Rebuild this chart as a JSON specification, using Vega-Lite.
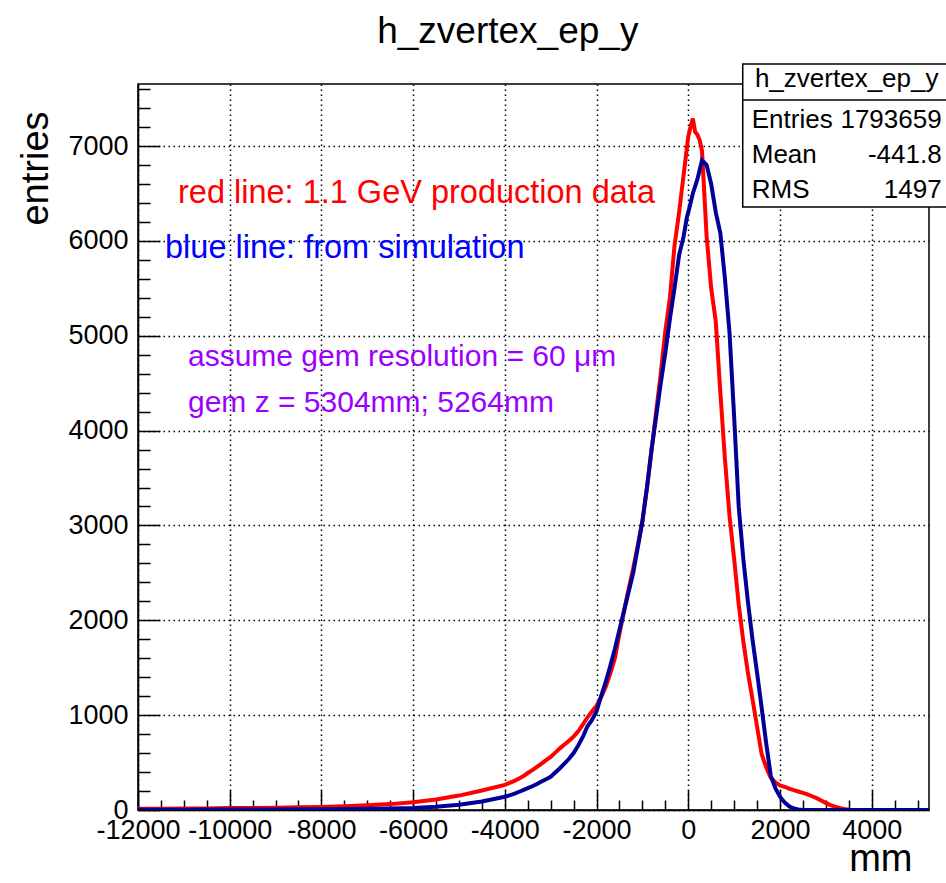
{
  "$schema": "https://vega.github.io/schema/vega-lite/v6.json",
  "width": 791,
  "height": 726,
  "autosize": {"type": "none"},
  "padding": {"left": 138, "top": 84, "right": 17, "bottom": 73},
  "background": "white",
  "config": {
    "font": "Liberation Sans",
    "view": {"stroke": "black", "strokeWidth": 1.5}
  },
  "datasets": {
    "red": [
      {"x": -12000, "n": 12}, {"x": -11500, "n": 13}, {"x": -11000, "n": 15}, {"x": -10500, "n": 17}, {"x": -10000, "n": 20},
      {"x": -9500, "n": 22}, {"x": -9000, "n": 25}, {"x": -8500, "n": 28}, {"x": -8000, "n": 32}, {"x": -7500, "n": 40},
      {"x": -7000, "n": 50}, {"x": -6500, "n": 62}, {"x": -6000, "n": 82}, {"x": -5500, "n": 110}, {"x": -5000, "n": 152},
      {"x": -4500, "n": 205},
      {"x": -4000, "n": 265}, {"x": -3900, "n": 285}, {"x": -3800, "n": 305}, {"x": -3700, "n": 330}, {"x": -3600, "n": 355},
      {"x": -3500, "n": 390}, {"x": -3400, "n": 420}, {"x": -3300, "n": 455}, {"x": -3200, "n": 490}, {"x": -3100, "n": 525},
      {"x": -3000, "n": 560}, {"x": -2900, "n": 605}, {"x": -2800, "n": 650}, {"x": -2700, "n": 690}, {"x": -2600, "n": 730},
      {"x": -2500, "n": 775}, {"x": -2400, "n": 830}, {"x": -2300, "n": 900}, {"x": -2200, "n": 975}, {"x": -2100, "n": 1040},
      {"x": -2000, "n": 1100}, {"x": -1900, "n": 1190}, {"x": -1800, "n": 1300}, {"x": -1700, "n": 1440}, {"x": -1600, "n": 1600},
      {"x": -1500, "n": 1860}, {"x": -1400, "n": 2100}, {"x": -1300, "n": 2330}, {"x": -1200, "n": 2550}, {"x": -1100, "n": 2790},
      {"x": -1000, "n": 3050}, {"x": -900, "n": 3400}, {"x": -800, "n": 3800}, {"x": -700, "n": 4200}, {"x": -600, "n": 4600},
      {"x": -500, "n": 5050}, {"x": -400, "n": 5400}, {"x": -300, "n": 5950}, {"x": -200, "n": 6300}, {"x": -100, "n": 6700},
      {"x": 0, "n": 7100}, {"x": 50, "n": 7200}, {"x": 100, "n": 7290}, {"x": 150, "n": 7150}, {"x": 200, "n": 7120}, {"x": 250, "n": 7060}, {"x": 300, "n": 6950}, {"x": 350, "n": 6500}, {"x": 400, "n": 6050},
      {"x": 500, "n": 5500}, {"x": 600, "n": 5150}, {"x": 700, "n": 4400}, {"x": 800, "n": 3700}, {"x": 900, "n": 3100},
      {"x": 1000, "n": 2650}, {"x": 1100, "n": 2170}, {"x": 1200, "n": 1780}, {"x": 1300, "n": 1450}, {"x": 1400, "n": 1170},
      {"x": 1500, "n": 880}, {"x": 1600, "n": 590}, {"x": 1700, "n": 450}, {"x": 1800, "n": 340}, {"x": 1900, "n": 290},
      {"x": 2000, "n": 260}, {"x": 2100, "n": 245}, {"x": 2200, "n": 225}, {"x": 2300, "n": 210}, {"x": 2400, "n": 195},
      {"x": 2500, "n": 180}, {"x": 2600, "n": 165}, {"x": 2700, "n": 145}, {"x": 2800, "n": 125}, {"x": 2900, "n": 100},
      {"x": 3000, "n": 75}, {"x": 3100, "n": 52}, {"x": 3200, "n": 35}, {"x": 3300, "n": 22}, {"x": 3400, "n": 12},
      {"x": 3500, "n": 4}, {"x": 3600, "n": 0}, {"x": 4000, "n": 0}, {"x": 4500, "n": 0}, {"x": 5000, "n": 0}, {"x": 5250, "n": 0}
    ],
    "blue": [
      {"x": -12000, "n": 3}, {"x": -11500, "n": 3}, {"x": -11000, "n": 3}, {"x": -10500, "n": 4}, {"x": -10000, "n": 4},
      {"x": -9500, "n": 5}, {"x": -9000, "n": 6}, {"x": -8500, "n": 7}, {"x": -8000, "n": 8}, {"x": -7500, "n": 10},
      {"x": -7000, "n": 12}, {"x": -6500, "n": 16}, {"x": -6000, "n": 22}, {"x": -5500, "n": 35}, {"x": -5000, "n": 55},
      {"x": -4500, "n": 90},
      {"x": -4000, "n": 140}, {"x": -3900, "n": 155}, {"x": -3800, "n": 170}, {"x": -3700, "n": 190}, {"x": -3600, "n": 210},
      {"x": -3500, "n": 230}, {"x": -3400, "n": 250}, {"x": -3300, "n": 275}, {"x": -3200, "n": 300}, {"x": -3100, "n": 325},
      {"x": -3000, "n": 350}, {"x": -2900, "n": 395}, {"x": -2800, "n": 440}, {"x": -2700, "n": 490}, {"x": -2600, "n": 540},
      {"x": -2500, "n": 600}, {"x": -2400, "n": 680}, {"x": -2300, "n": 770}, {"x": -2200, "n": 880}, {"x": -2100, "n": 950},
      {"x": -2000, "n": 1040}, {"x": -1900, "n": 1200}, {"x": -1800, "n": 1350}, {"x": -1700, "n": 1520}, {"x": -1600, "n": 1700},
      {"x": -1500, "n": 1900}, {"x": -1400, "n": 2100}, {"x": -1300, "n": 2300}, {"x": -1200, "n": 2500}, {"x": -1100, "n": 2770},
      {"x": -1000, "n": 3040}, {"x": -900, "n": 3400}, {"x": -800, "n": 3800}, {"x": -700, "n": 4150}, {"x": -600, "n": 4500},
      {"x": -500, "n": 4820}, {"x": -400, "n": 5180}, {"x": -300, "n": 5500}, {"x": -200, "n": 5850}, {"x": -100, "n": 6050},
      {"x": -30, "n": 6250}, {"x": 0, "n": 6300}, {"x": 100, "n": 6500}, {"x": 200, "n": 6650}, {"x": 300, "n": 6850}, {"x": 400, "n": 6800},
      {"x": 500, "n": 6600}, {"x": 600, "n": 6300}, {"x": 700, "n": 6080}, {"x": 800, "n": 5600}, {"x": 900, "n": 5030},
      {"x": 1000, "n": 4150}, {"x": 1100, "n": 3200}, {"x": 1200, "n": 2650}, {"x": 1300, "n": 2200}, {"x": 1400, "n": 1800},
      {"x": 1500, "n": 1450}, {"x": 1600, "n": 1080}, {"x": 1700, "n": 700}, {"x": 1800, "n": 360}, {"x": 1900, "n": 230},
      {"x": 2000, "n": 140}, {"x": 2100, "n": 80}, {"x": 2200, "n": 40}, {"x": 2300, "n": 15}, {"x": 2400, "n": 5},
      {"x": 2500, "n": 0}, {"x": 3000, "n": 0}, {"x": 3500, "n": 0}, {"x": 4000, "n": 0}, {"x": 4500, "n": 0},
      {"x": 5000, "n": 0}, {"x": 5250, "n": 0}
    ]
  },
  "layer": [
    {
      "data": {"name": "red"},
      "mark": {"type": "line", "interpolate": "linear", "strokeWidth": 4, "color": "#ff0000", "clip": true},
      "encoding": {
        "x": {
          "field": "x", "type": "quantitative",
          "scale": {"domain": [-12000, 5250], "nice": false, "zero": false},
          "axis": {
            "values": [-12000, -11500, -11000, -10500, -10000, -9500, -9000, -8500, -8000, -7500, -7000, -6500, -6000, -5500, -5000, -4500, -4000, -3500, -3000, -2500, -2000, -1500, -1000, -500, 0, 500, 1000, 1500, 2000, 2500, 3000, 3500, 4000, 4500, 5000],
            "tickCount": 200,
            "labelExpr": "datum.value % 2000 === 0 ? '' + datum.value : ''",
            "labelOverlap": false, "labelFlush": false, "labelBound": false,
            "labelFontSize": 27, "labelColor": "black", "labelFont": "Liberation Sans", "labelPadding": 27,
            "tickSize": -20, "tickColor": "black", "tickWidth": 1.5,
            "tickDash": {"condition": {"test": "datum.value % 2000 !== 0", "value": [10, 40]}, "value": [30, 0]},
            "grid": true, "gridColor": "black", "gridDash": [1.5, 3.5], "gridWidth": 1.5,
            "gridOpacity": {"condition": {"test": "datum.value % 2000 === 0", "value": 1}, "value": 0},
            "domainColor": "black", "domainWidth": 1.5,
            "title": "mm", "titleFontSize": 38, "titleFontWeight": "normal", "titleColor": "black", "titleFont": "Liberation Sans",
            "titleX": 774, "titleY": 60, "titleAlign": "right", "titleBaseline": "alphabetic"
          }
        },
        "y": {
          "field": "n", "type": "quantitative",
          "scale": {"domain": [0, 7654], "nice": false, "zero": true},
          "axis": {
            "values": [0, 200, 400, 600, 800, 1000, 1200, 1400, 1600, 1800, 2000, 2200, 2400, 2600, 2800, 3000, 3200, 3400, 3600, 3800, 4000, 4200, 4400, 4600, 4800, 5000, 5200, 5400, 5600, 5800, 6000, 6200, 6400, 6600, 6800, 7000, 7200, 7400, 7600],
            "tickCount": 200,
            "labelExpr": "datum.value % 1000 === 0 ? '' + datum.value : ''",
            "labelOverlap": false, "labelFlush": false, "labelBound": false,
            "labelFontSize": 27, "labelColor": "black", "labelFont": "Liberation Sans", "labelPadding": 32,
            "tickSize": -22, "tickColor": "black", "tickWidth": 1.5,
            "tickDash": {"condition": {"test": "datum.value % 1000 !== 0", "value": [12, 40]}, "value": [30, 0]},
            "grid": true, "gridColor": "black", "gridDash": [1.5, 3.5], "gridWidth": 1.5,
            "gridOpacity": {"condition": {"test": "datum.value % 1000 === 0", "value": 1}, "value": 0},
            "domainColor": "black", "domainWidth": 1.5,
            "title": "entries", "titleFontSize": 38, "titleFontWeight": "normal", "titleColor": "black", "titleFont": "Liberation Sans",
            "titleAngle": -90, "titleX": -91, "titleY": 84, "titleAlign": "center", "titleBaseline": "alphabetic"
          }
        }
      }
    },
    {
      "data": {"name": "blue"},
      "mark": {"type": "line", "interpolate": "linear", "strokeWidth": 4, "color": "#000099", "clip": true},
      "encoding": {
        "x": {"field": "x", "type": "quantitative"},
        "y": {"field": "n", "type": "quantitative"}
      }
    },
    {
      "data": {"values": [{"t": "h_zvertex_ep_y"}]},
      "mark": {"type": "text", "align": "center", "baseline": "alphabetic", "fontSize": 37, "font": "Liberation Sans", "color": "black", "clip": false},
      "encoding": {"text": {"field": "t"}, "x": {"datum": -3935, "type": "quantitative"}, "y": {"datum": 8086, "type": "quantitative"}}
    },
    {
      "data": {"values": [{"t": "red line: 1.1 GeV production data"}]},
      "mark": {"type": "text", "align": "left", "baseline": "alphabetic", "fontSize": 32.5, "font": "Liberation Sans", "color": "#ff0000"},
      "encoding": {"text": {"field": "t"}, "x": {"datum": -11128, "type": "quantitative"}, "y": {"datum": 6399, "type": "quantitative"}}
    },
    {
      "data": {"values": [{"t": "blue line: from simulation"}]},
      "mark": {"type": "text", "align": "left", "baseline": "alphabetic", "fontSize": 32.5, "font": "Liberation Sans", "color": "#0000ff"},
      "encoding": {"text": {"field": "t"}, "x": {"datum": -11411, "type": "quantitative"}, "y": {"datum": 5819, "type": "quantitative"}}
    },
    {
      "data": {"values": [{"t": "assume gem resolution = 60 μm"}]},
      "mark": {"type": "text", "align": "left", "baseline": "alphabetic", "fontSize": 30, "font": "Liberation Sans", "color": "#9a00ff"},
      "encoding": {"text": {"field": "t"}, "x": {"datum": -10910, "type": "quantitative"}, "y": {"datum": 4681, "type": "quantitative"}}
    },
    {
      "data": {"values": [{"t": "gem z = 5304mm; 5264mm"}]},
      "mark": {"type": "text", "align": "left", "baseline": "alphabetic", "fontSize": 30, "font": "Liberation Sans", "color": "#9a00ff"},
      "encoding": {"text": {"field": "t"}, "x": {"datum": -10910, "type": "quantitative"}, "y": {"datum": 4196, "type": "quantitative"}}
    },
    {
      "data": {"values": [{"box": "stats"}]},
      "mark": {"type": "rect", "fill": "white", "stroke": "black", "strokeWidth": 1.5, "clip": false},
      "encoding": {"x": {"datum": 1188, "type": "quantitative"}, "x2": {"datum": 5700}, "y": {"datum": 7865, "type": "quantitative"}, "y2": {"datum": 6357}}
    },
    {
      "data": {"values": [{"box": "stats"}]},
      "mark": {"type": "rule", "stroke": "black", "strokeWidth": 1.5, "clip": false},
      "encoding": {"x": {"datum": 1188, "type": "quantitative"}, "x2": {"datum": 5700}, "y": {"datum": 7485, "type": "quantitative"}}
    },
    {
      "data": {"values": [{"t": "h_zvertex_ep_y"}]},
      "mark": {"type": "text", "align": "center", "baseline": "alphabetic", "fontSize": 26, "font": "Liberation Sans", "color": "black"},
      "encoding": {"text": {"field": "t"}, "x": {"datum": 3455, "type": "quantitative"}, "y": {"datum": 7622, "type": "quantitative"}}
    },
    {
      "data": {"values": [{"t": "Entries"}]},
      "mark": {"type": "text", "align": "left", "baseline": "alphabetic", "fontSize": 26, "font": "Liberation Sans", "color": "black"},
      "encoding": {"text": {"field": "t"}, "x": {"datum": 1384, "type": "quantitative"}, "y": {"datum": 7190, "type": "quantitative"}}
    },
    {
      "data": {"values": [{"t": "1793659"}]},
      "mark": {"type": "text", "align": "right", "baseline": "alphabetic", "fontSize": 26, "font": "Liberation Sans", "color": "black"},
      "encoding": {"text": {"field": "t"}, "x": {"datum": 5526, "type": "quantitative"}, "y": {"datum": 7190, "type": "quantitative"}}
    },
    {
      "data": {"values": [{"t": "Mean"}]},
      "mark": {"type": "text", "align": "left", "baseline": "alphabetic", "fontSize": 26, "font": "Liberation Sans", "color": "black"},
      "encoding": {"text": {"field": "t"}, "x": {"datum": 1384, "type": "quantitative"}, "y": {"datum": 6821, "type": "quantitative"}}
    },
    {
      "data": {"values": [{"t": "-441.8"}]},
      "mark": {"type": "text", "align": "right", "baseline": "alphabetic", "fontSize": 26, "font": "Liberation Sans", "color": "black"},
      "encoding": {"text": {"field": "t"}, "x": {"datum": 5526, "type": "quantitative"}, "y": {"datum": 6821, "type": "quantitative"}}
    },
    {
      "data": {"values": [{"t": "RMS"}]},
      "mark": {"type": "text", "align": "left", "baseline": "alphabetic", "fontSize": 26, "font": "Liberation Sans", "color": "black"},
      "encoding": {"text": {"field": "t"}, "x": {"datum": 1384, "type": "quantitative"}, "y": {"datum": 6452, "type": "quantitative"}}
    },
    {
      "data": {"values": [{"t": "1497"}]},
      "mark": {"type": "text", "align": "right", "baseline": "alphabetic", "fontSize": 26, "font": "Liberation Sans", "color": "black"},
      "encoding": {"text": {"field": "t"}, "x": {"datum": 5526, "type": "quantitative"}, "y": {"datum": 6452, "type": "quantitative"}}
    }
  ]
}
